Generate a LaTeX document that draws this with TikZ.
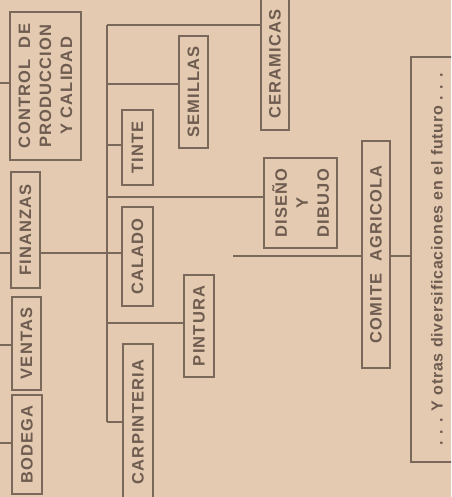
\documentclass[tikz,border=0pt]{standalone}
\usepackage{fontspec}
\setmainfont{Liberation Sans}
\newfontfamily\boxfont[LetterSpace=7]{Liberation Sans}
\newfontfamily\otrasfont[LetterSpace=5]{Liberation Sans}
\definecolor{bg}{RGB}{228,202,176}
\definecolor{ink}{RGB}{122,104,90}
\definecolor{txt}{RGB}{110,92,80}
\tikzset{
  orgbox/.style={draw=ink, line width=1.3pt, rotate=90, inner sep=0pt, text=txt,
    font=\boxfont\bfseries\fontsize{16.5}{21}\selectfont, align=center},
  otrasbox/.style={font=\otrasfont\bfseries\fontsize{16}{21}\selectfont},
  boxsize/.style 2 args={minimum width=#2, minimum height=#1},
  link/.style={draw=ink, line width=1.2pt},
}
\begin{document}
\begin{tikzpicture}[x=1pt, y=-1pt]
  \fill[bg] (0,0) rectangle (451,497);
  \clip (0,0) rectangle (451,497);
  \useasboundingbox (0,0) rectangle (451,497);

  % boxes
  \node[orgbox, boxsize={71}{148}] (ctrl) at (45.5,86) {CONTROL\ \ DE\\PRODUCCION\\Y CALIDAD};
  \node[orgbox, boxsize={29}{116}] (fin) at (25.5,230) {FINANZAS};
  \node[orgbox, boxsize={29}{93}] (ventas) at (26.5,343.5) {VENTAS};
  \node[orgbox, boxsize={30}{99}] (bodega) at (27,444.5) {BODEGA};
  \node[orgbox, boxsize={28}{132}] (ceram) at (275,64) {CERAMICAS};
  \node[orgbox, boxsize={29}{112}] (semillas) at (193.5,92) {SEMILLAS};
  \node[orgbox, boxsize={31}{75}] (tinte) at (137.5,147.5) {TINTE};
  \node[orgbox, boxsize={31}{99}] (calado) at (137.5,256.5) {CALADO};
  \node[orgbox, boxsize={30}{102}] (pintura) at (199,326) {PINTURA};
  \node[orgbox, boxsize={30}{156}] (carp) at (138,422) {CARPINTERIA};
  \node[orgbox, boxsize={73}{90}] (diseno) at (300.5,203) {DISEÑO\\Y\\DIBUJO};
  \node[orgbox, boxsize={28}{227}] (comite) at (376,254.5) {COMITE\ \ AGRICOLA};
  \node[orgbox, otrasbox, boxsize={52}{405}] (otras) at (437,259.5) {. . . Y otras diversificaciones en el futuro . . .};

  % left stubs
  \coordinate (l1) at (0,83);
  \coordinate (l2) at (0,253);
  \coordinate (l3) at (0,345);
  \coordinate (l4) at (0,443);
  \draw[link] (l1) -- (l1 -| ctrl.north);
  \draw[link] (l2) -- (l2 -| fin.north);
  \draw[link] (l3) -- (l3 -| ventas.north);
  \draw[link] (l4) -- (l4 -| bodega.north);

  % spine
  \coordinate (s1) at (107,25);
  \coordinate (s2) at (107,84);
  \coordinate (s3) at (107,145);
  \coordinate (s4) at (107,197);
  \coordinate (s5) at (107,253);
  \coordinate (s6) at (107,323);
  \coordinate (s7) at (107,422);
  \draw[link] (s1) -- (s7);
  \draw[link] (s1) -- (s1 -| ceram.north);
  \draw[link] (s2) -- (s2 -| semillas.north);
  \draw[link] (s3) -- (s3 -| tinte.north);
  \draw[link] (s4) -- (s4 -| diseno.north);
  \draw[link] (s5 -| fin.south) -- (s5 -| calado.north);
  \draw[link] (s6) -- (s6 -| pintura.north);
  \draw[link] (s7) -- (s7 -| carp.north);

  % comite line
  \coordinate (c0) at (233,256);
  \draw[link] (c0) -- (c0 -| comite.north);
  \draw[link] (c0 -| comite.south) -- (c0 -| otras.north);
\end{tikzpicture}
\end{document}
